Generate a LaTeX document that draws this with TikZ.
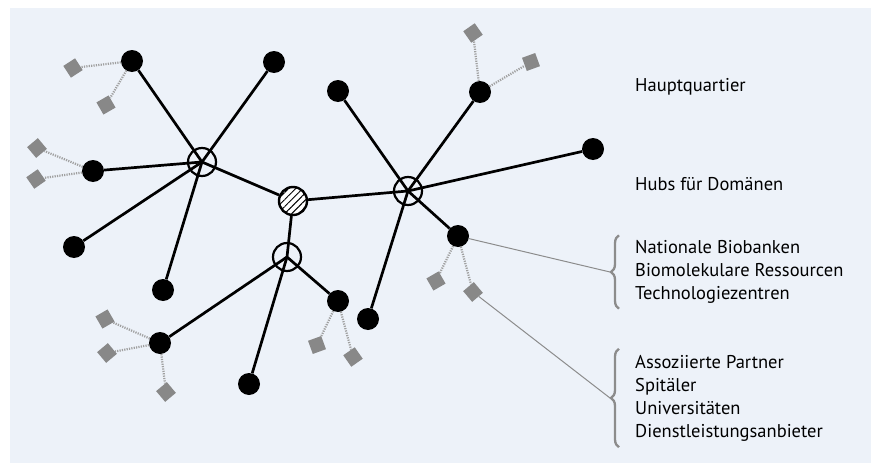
\documentclass[tikz,border=0pt]{standalone}
\usepackage{fontspec}
\setmainfont{PT Sans}
\usetikzlibrary{positioning, backgrounds, patterns.meta, decorations.pathreplacing}
\definecolor{nwPanel}{HTML}{EDF2F9}
\definecolor{nwInk}{HTML}{000000}
\definecolor{nwPart}{HTML}{888888}
\definecolor{nwDot}{HTML}{A0A0A0}
\definecolor{nwCall}{HTML}{8C8C8C}
\tikzset{
  hq/.style={circle, draw=nwInk, line width=2.4pt, minimum size=28pt, inner sep=0pt,
    fill=white, postaction={pattern={Lines[angle=45, distance=5pt, line width=1pt]}}},
  hub/.style={circle, draw=nwInk, line width=2.2pt, minimum size=28pt, inner sep=0pt},
  site/.style={circle, fill=nwInk, minimum size=22pt, inner sep=0pt},
  partner/.style={rectangle, fill=nwPart, minimum size=14pt, inner sep=0pt},
  link/.style={line width=2.7pt, draw=nwInk},
  dlink/.style={line width=2.2pt, draw=nwDot, dash pattern=on 1.2pt off 1.2pt},
  callout/.style={line width=1pt, draw=nwCall},
  bracel/.style={line width=2.3pt, draw=nwCall, decorate, decoration={brace, amplitude=8pt}},
  legend/.style={font=\fontsize{18.5}{23}\selectfont, text=black, align=left, inner sep=0pt, anchor=west},
}

\begin{document}
\begin{tikzpicture}[x=1pt, y=-1pt]
  \useasboundingbox (0,0) rectangle (871,463);

  % hubs and headquarters
  \node[hq]  (hq)   at (293,201) {};
  \node[hub] (hubL) at (202,162) {};
  \node[hub] (hubR) at (408,191) {};
  \node[hub] (hubC) at (287,257) {};

  % sites
  \foreach \n/\p in {s1/{132,61}, s2/{274,62}, s3/{93,171}, s4/{74,247}, s5/{163,290},
                     s6/{338,91}, s7/{480,92}, s8/{593,149}, s9/{458,236}, s10/{368,319},
                     s11/{160,343}, s12/{249,384}, s13/{338,301}}
    \node[site] (\n) at (\p) {};

  % partners
  \foreach \n/\p/\a in {p1/{73,68}/33, p2/{106,105}/30, p3/{37,148}/40, p4/{36,179}/35,
                        p5/{473,33}/35, p6/{531,62}/20, p7/{105,319}/30, p8/{107,353}/40,
                        p9/{166,392}/40, p10/{317,345}/20, p11/{353,357}/35,
                        p12/{436,281}/30, p13/{473,292}/40}
    \node[partner, rotate=\a] (\n) at (\p) {};

  % legend
  \node[legend] (t-hq)  at (635,87)  {Hauptquartier};
  \node[legend] (t-hub) at (635,184) {Hubs für Domänen};
  \node[legend] (t-nat) at (635,272) {Nationale Biobanken\\Biomolekulare Ressourcen\\Technologiezentren};
  \node[legend] (t-ass) at (635,398) {Assoziierte Partner\\Spitäler\\Universitäten\\Dienstleistungsanbieter};

  \draw[bracel] ([xshift=-16pt, yshift=-5pt]t-nat.south west) -- ([xshift=-16pt, yshift=5pt]t-nat.north west);
  \draw[bracel] ([xshift=-16pt, yshift=-6pt]t-ass.south west) -- ([xshift=-16pt, yshift=6pt]t-ass.north west);
  \coordinate (tip-nat) at ([xshift=-25pt]t-nat.west);
  \coordinate (tip-ass) at ([xshift=-25pt]t-ass.west);

  \begin{scope}[on background layer]
    \fill[nwPanel] (10,8) rectangle (871,463);
    \foreach \s in {s1,s2,s3,s4,s5} \draw[link] (hubL.center) -- (\s);
    \foreach \s in {s6,s7,s8,s9,s10} \draw[link] (hubR.center) -- (\s);
    \foreach \s in {s11,s12,s13} \draw[link] (hubC.center) -- (\s);
    \draw[link] (hubL.center) -- (hq);
    \draw[link] (hubR.center) -- (hq);
    \draw[link] (hubC.center) -- (hq);
    % dotted partner links
    \foreach \s/\p in {s1/p1, s1/p2, s3/p3, s3/p4, s7/p5, s7/p6, s11/p7, s11/p8,
                       s11/p9, s13/p10, s13/p11, s9/p12, s9/p13}
      \draw[dlink] (\s) -- (\p);
    \draw[callout] (s9) -- (tip-nat);
    \draw[callout] (p13) -- (tip-ass);
  \end{scope}
\end{tikzpicture}
\end{document}
